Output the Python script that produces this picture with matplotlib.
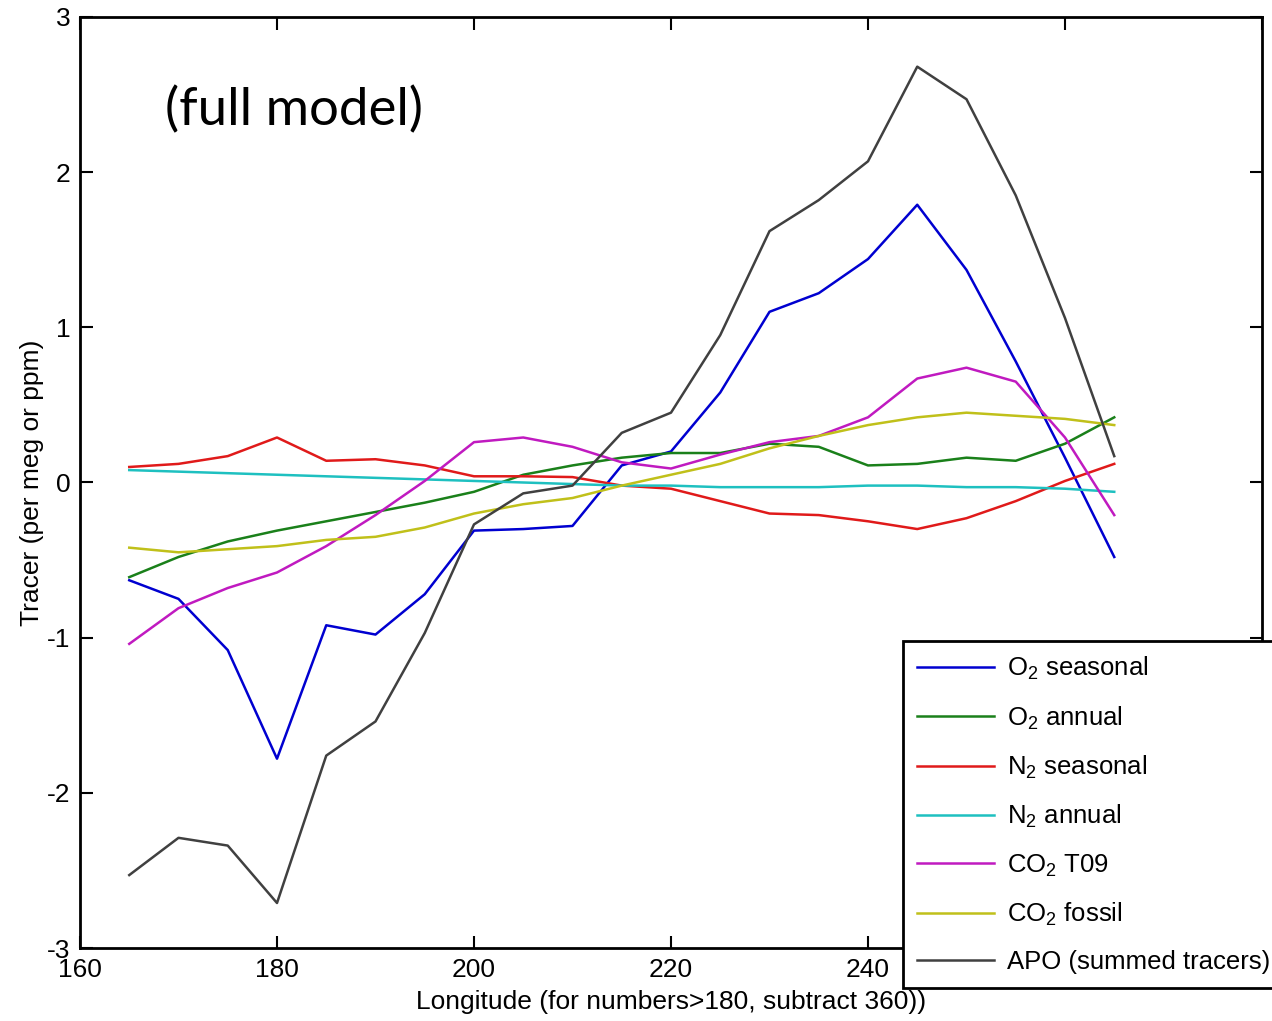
import matplotlib
matplotlib.use("Agg")
import matplotlib.pyplot as plt

plt.rcParams['font.family'] = ['Liberation Sans', 'DejaVu Sans']
plt.rcParams['mathtext.fontset'] = 'custom'
plt.rcParams['mathtext.rm'] = 'Liberation Sans'
plt.rcParams['mathtext.it'] = 'Liberation Sans'
plt.rcParams['axes.unicode_minus'] = False

# longitude of each model column (deg E)
lon = [165, 170, 175, 180, 185, 190, 195, 200, 205, 210, 215,
       220, 225, 230, 235, 240, 245, 250, 255, 260, 265]

o2_seasonal = [-0.63, -0.75, -1.08, -1.78, -0.92, -0.98, -0.72, -0.31, -0.30, -0.28, 0.11,
               0.20, 0.58, 1.10, 1.22, 1.44, 1.79, 1.37, 0.78, 0.16, -0.48]
o2_annual = [-0.61, -0.48, -0.38, -0.31, -0.25, -0.19, -0.13, -0.06, 0.05, 0.11, 0.16,
             0.19, 0.19, 0.25, 0.23, 0.11, 0.12, 0.16, 0.14, 0.25, 0.42]
n2_seasonal = [0.10, 0.12, 0.17, 0.29, 0.14, 0.15, 0.11, 0.04, 0.04, 0.035, -0.02,
               -0.04, -0.12, -0.20, -0.21, -0.25, -0.30, -0.23, -0.12, 0.01, 0.12]
n2_annual = [0.08, 0.07, 0.06, 0.05, 0.04, 0.03, 0.02, 0.01, 0.0, -0.01, -0.02,
             -0.02, -0.03, -0.03, -0.03, -0.02, -0.02, -0.03, -0.03, -0.04, -0.06]
co2_t09 = [-1.04, -0.81, -0.68, -0.58, -0.41, -0.21, 0.01, 0.26, 0.29, 0.23, 0.13,
           0.09, 0.18, 0.26, 0.30, 0.42, 0.67, 0.74, 0.65, 0.29, -0.21]
co2_fossil = [-0.42, -0.45, -0.43, -0.41, -0.37, -0.35, -0.29, -0.20, -0.14, -0.10, -0.02,
              0.05, 0.12, 0.22, 0.30, 0.37, 0.42, 0.45, 0.43, 0.41, 0.37]
apo = [-2.53, -2.29, -2.34, -2.71, -1.76, -1.54, -0.97, -0.27, -0.07, -0.02, 0.32,
       0.45, 0.95, 1.62, 1.82, 2.07, 2.68, 2.47, 1.85, 1.06, 0.17]

x_ticks = [160, 180, 200, 220, 240, 260, 280]
# the last two labels sit under the legend box, so leave them blank
x_ticklabels = ['160', '180', '200', '220', '240', '', '']

series = [
    (o2_seasonal, '#0000d0', 'O$_2$ seasonal'),
    (o2_annual, '#1a801a', 'O$_2$ annual'),
    (n2_seasonal, '#e01a1a', 'N$_2$ seasonal'),
    (n2_annual, '#1ec0c0', 'N$_2$ annual'),
    (co2_t09, '#c01ac0', 'CO$_2$ T09'),
    (co2_fossil, '#c0c01a', 'CO$_2$ fossil'),
    (apo, '#404040', 'APO (summed tracers)'),
]

fig = plt.figure(figsize=(12.72, 10.21), dpi=100)
ax = fig.add_axes([80 / 1272, 1 - 948 / 1021, (1262 - 80) / 1272, (948 - 17) / 1021])

for vals, col, name in series:
    ax.plot(lon, vals, color=col, lw=1.8, label=name)

ax.set_xlim(160, 280)
ax.set_ylim(-3, 3)
ax.set_xticks(x_ticks)
ax.set_xticklabels(x_ticklabels)
ax.set_yticks(range(-3, 4))
ax.tick_params(direction='in', length=9, width=1.5, top=True, right=True,
               labelsize=19, pad=7)
for sp in ax.spines.values():
    sp.set_linewidth(2)

ax.set_xlabel('Longitude (for numbers>180, subtract 360))', fontsize=19, labelpad=6)
ax.set_ylabel('Tracer (per meg or ppm)', fontsize=19, labelpad=2)

ax.text(168.6, 2.4, '(full model)', fontsize=38, family=['Lato', 'DejaVu Sans'],
        va='center', ha='left')

leg = ax.legend(loc='upper left', bbox_to_anchor=(903 / 1272, 1 - 641 / 1021),
                bbox_transform=fig.transFigure, fontsize=18.5, frameon=True,
                fancybox=False, framealpha=1, edgecolor='black',
                handlelength=3.0, handletextpad=0.5, labelspacing=0.86,
                borderpad=0.55, borderaxespad=0)
leg.get_frame().set_linewidth(2)
leg.set_zorder(10)

fig.savefig('out.png', dpi=100)
